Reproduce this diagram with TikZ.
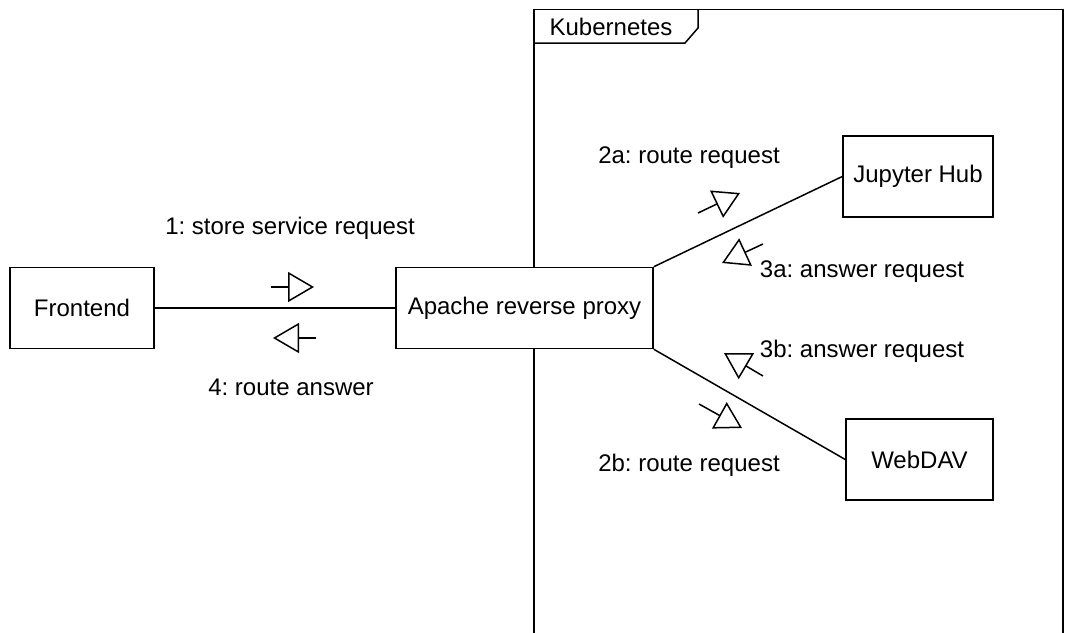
\documentclass[tikz,border=0pt]{standalone}
\usepackage{fontspec}
\setmainfont{Liberation Sans}
\usetikzlibrary{arrows.meta}
\frenchspacing

\begin{document}
\begin{tikzpicture}[x=1pt,y=-1pt,line width=1.5pt,line cap=butt,line join=miter,
	box/.style={draw,fill=white,inner sep=0pt,font=\fontsize{24}{28}\selectfont},
	lbl/.style={inner sep=0pt,font=\fontsize{24}{28}\selectfont},
	msg/.style={-{Triangle[open,length=26pt,width=30pt]}}]
	\useasboundingbox (0,0) rectangle (1065,632);
	
	% Kubernetes frame with its tab
	\draw (534,633) -- (534,9.5) -- (1063,9.5) -- (1063,633);
	\draw (534,43) -- (685,43) -- (698,28) -- (698,9.5);
	\node[lbl] (k8s) at (611,27) {Kubernetes};
	
	\node[box,minimum width=144pt,minimum height=81pt] (frontend) at (82,308) {Frontend};
	\node[box,minimum width=257pt,minimum height=81pt] (proxy) at (524.5,308) {Apache reverse proxy};
	\node[box,minimum width=150pt,minimum height=81pt] (jupyter) at (918,176.5) {Jupyter Hub};
	\node[box,minimum width=147pt,minimum height=81pt] (webdav) at (919.5,459.5) {WebDAV};
	
	\draw (frontend) -- (proxy);
	\draw (proxy.north east) -- (jupyter.west);
	\draw (proxy.south east) -- (webdav.west);
	
	% message labels
	\node[lbl] (m1) at (290,228) {1: store service request};
	\node[lbl] (m4) at (291,387) {4: route answer};
	\node[lbl] (m2a) at (689,158) {2a: route request};
	\node[lbl] (m3a) at (862,272) {3a: answer request};
	\node[lbl] (m3b) at (862,351) {3b: answer request};
	\node[lbl] (m2b) at (689,465) {2b: route request};
	
	% message arrows
	\coordinate (a1s) at (271,287); \coordinate (a1e) at (314,287);
	\coordinate (a4s) at (316,338); \coordinate (a4e) at (273,338);
	\coordinate (a2as) at (698,213); \coordinate (a2ae) at (740,193);
	\coordinate (a3as) at (763,244); \coordinate (a3ae) at (722,263);
	\coordinate (a3bs) at (763,376); \coordinate (a3be) at (724,353);
	\coordinate (a2bs) at (699,404); \coordinate (a2be) at (742,428);
	\foreach \a in {1,4,2a,3a,3b,2b}
	\draw[msg] (a\a s) -- (a\a e);
	
\end{tikzpicture}
\end{document}
